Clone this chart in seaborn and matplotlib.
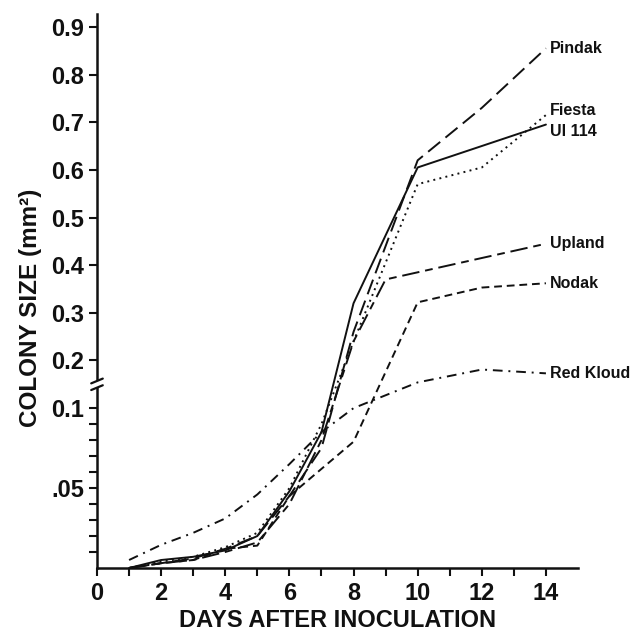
import numpy as np
import pandas as pd
import seaborn as sns
import matplotlib
matplotlib.use("Agg")
import matplotlib.pyplot as plt
import matplotlib.transforms as mtransforms

# données (taille des colonies, mm²)
days = [1, 2, 3, 4, 5, 6, 7, 8, 10, 12, 14]
days_upland = [1, 2, 3, 4, 5, 6, 7, 8, 9, 12, 14]

pindak = [0.0, 0.003, 0.006, 0.012, 0.020, 0.045, 0.075, 0.26, 0.62, 0.73, 0.855]
fiesta = [0.0, 0.004, 0.007, 0.013, 0.022, 0.050, 0.090, 0.24, 0.57, 0.605, 0.715]
ui114 = [0.0, 0.005, 0.007, 0.011, 0.020, 0.048, 0.085, 0.32, 0.605, 0.65, 0.695]
upland = [0.0, 0.003, 0.005, 0.010, 0.016, 0.040, 0.080, 0.24, 0.37, 0.415, 0.445]
nodak = [0.0, 0.003, 0.005, 0.012, 0.014, 0.045, 0.062, 0.079, 0.322, 0.353, 0.362]
red_kloud = [0.005, 0.0145, 0.022, 0.031, 0.046, 0.065, 0.085, 0.100, 0.154, 0.181, 0.173]

cultivars = ["Pindak", "Fiesta", "Ul 114", "Upland", "Nodak", "Red Kloud"]
label_dy = [0, 3, -5, 0, 0, 0]  # décalage vertical des étiquettes (points)

yticks_major = [0.05, 0.1, 0.2, 0.3, 0.4, 0.5, 0.6, 0.7, 0.8, 0.9]
yticklabels = [".05", "0.1", "0.2", "0.3", "0.4", "0.5", "0.6", "0.7", "0.8", "0.9"]
yticks_minor = [0.01, 0.02, 0.03, 0.04, 0.06, 0.07, 0.08, 0.09]

series = {
    "Pindak": (days, pindak),
    "Fiesta": (days, fiesta),
    "Ul 114": (days, ui114),
    "Upland": (days_upland, upland),
    "Nodak": (days, nodak),
    "Red Kloud": (days, red_kloud),
}
df = pd.concat(
    [pd.DataFrame({"day": d, "size": v, "cultivar": name}) for name, (d, v) in series.items()],
    ignore_index=True,
)

dashes = {
    "Pindak": (8, 3.5),
    "Fiesta": (1, 2.2),
    "Ul 114": "",
    "Upland": (9, 3, 4, 3),
    "Nodak": (4, 2.5),
    "Red Kloud": (5, 3, 1, 3),
}

sns.set_style("ticks")
plt.rcParams["font.family"] = ["Liberation Sans", "DejaVu Sans"]
plt.rcParams["font.weight"] = "bold"

# échelle coupée : partie basse dilatée (0 - 0.1), partie haute linéaire
K = 1600 / 477


def forward(y):
    y = np.asarray(y, dtype=float)
    return np.where(y <= 0.1, y * K, 0.1 * K + (y - 0.1))


def inverse(t):
    t = np.asarray(t, dtype=float)
    return np.where(t <= 0.1 * K, t / K, t - 0.1 * K + 0.1)


fig = plt.figure(figsize=(6.31, 6.35), dpi=100)
ax = fig.add_axes([97 / 631, 67 / 635, 481 / 631, 554 / 635])
ax.set_yscale("function", functions=(forward, inverse))

sns.lineplot(
    data=df, x="day", y="size", style="cultivar", dashes=dashes,
    color="#111111", linewidth=1.4, legend=False, ax=ax, estimator=None, sort=False,
)

ax.set_xlim(0, 15)
ax.set_ylim(0, 0.927)
ax.set_xticks(range(0, 15, 2))
ax.set_xticks(range(1, 15, 2), minor=True)
ax.set_yticks(yticks_major)
ax.set_yticklabels(yticklabels)
ax.set_yticks(yticks_minor, minor=True)
ax.tick_params(axis="both", which="both", direction="out", length=6, width=1.5,
               color="#111111", labelsize=17, labelcolor="#111111")
ax.tick_params(axis="y", pad=3)
ax.tick_params(axis="x", pad=4)
for lab in ax.get_xticklabels() + ax.get_yticklabels():
    lab.set_fontweight("bold")

sns.despine(ax=ax)
for side in ["left", "bottom"]:
    ax.spines[side].set_linewidth(1.8)
    ax.spines[side].set_color("#111111")

ax.set_xlabel("DAYS AFTER INOCULATION", fontsize=17, fontweight="bold",
              color="#111111", labelpad=3)
ax.set_ylabel("COLONY SIZE (mm²)", fontsize=17.5, fontweight="bold",
              color="#111111")
ax.yaxis.set_label_coords(-0.115, 0.47)

# étiquettes des cultivars en bout de courbe
for name, dy in zip(cultivars, label_dy):
    d, v = series[name]
    ax.annotate(name, xy=(d[-1], v[-1]), xytext=(3, dy), textcoords="offset points",
                ha="left", va="center", fontsize=11.5, fontweight="bold", color="#111111",
                annotation_clip=False)

# marque de coupure sur l'axe des y
trans = mtransforms.blended_transform_factory(ax.transAxes, ax.transData)
ax.plot([0, 0], [0.143, 0.157], color="white", lw=4, transform=trans,
        clip_on=False, zorder=5, solid_capstyle="butt")
for yb in (0.143, 0.157):
    ax.plot([-0.012, 0.012], [yb - 0.005, yb + 0.005], color="#111111", lw=1.6,
            transform=trans, clip_on=False, zorder=6)

plt.savefig("out.png", dpi=100)
